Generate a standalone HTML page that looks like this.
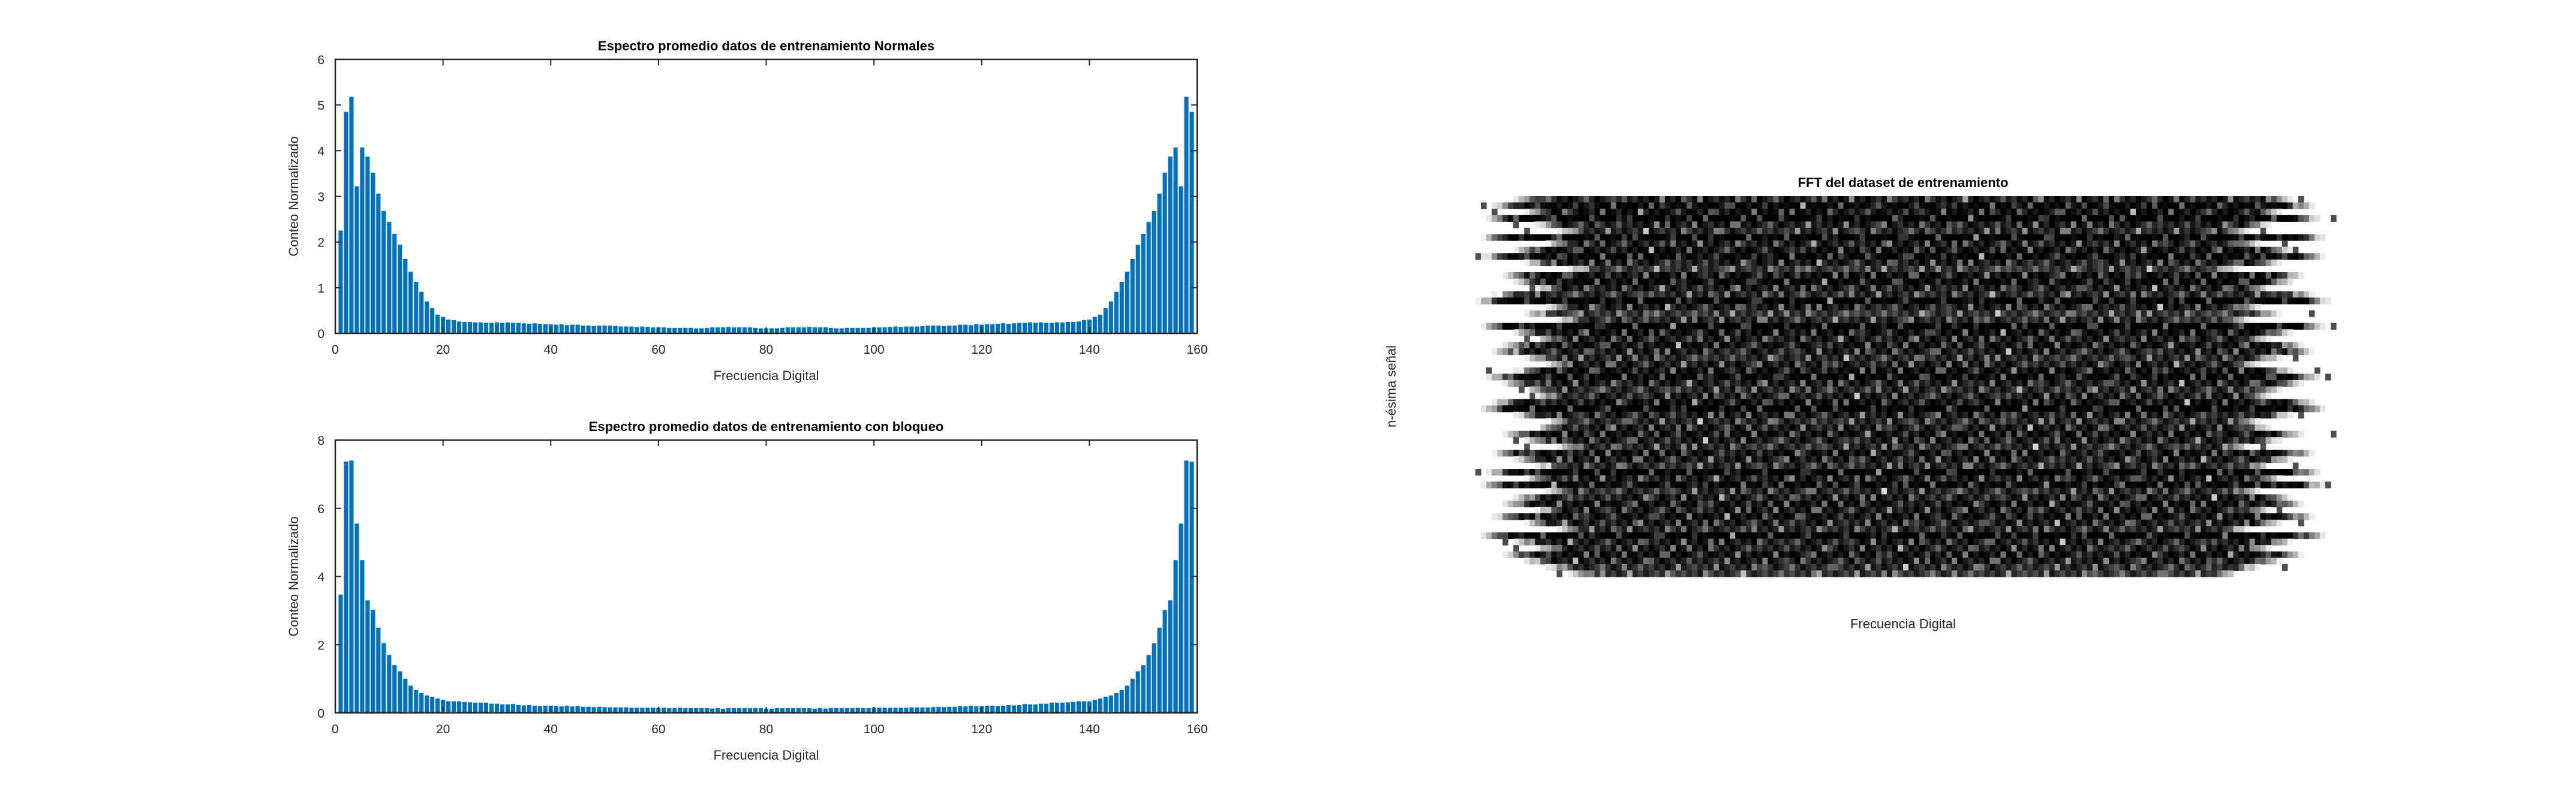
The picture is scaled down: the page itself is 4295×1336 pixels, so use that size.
<!DOCTYPE html>
<html><head><meta charset="utf-8"><style>
html,body{margin:0;padding:0;background:#fff;}
svg{display:block;font-family:"Liberation Sans",sans-serif;}
</style></head><body>
<svg id="fig" width="4295" height="1336" viewBox="0 0 4295 1336" xmlns="http://www.w3.org/2000/svg">
<rect width="4295" height="1336" fill="#fff"/>
<g id="p1"></g>
<g id="p2"></g>
<g id="p3"></g>
</svg>
<script>
// Top chart (bins 1..80; right half mirrors)
const topLeft = [2.25,4.85,5.18,3.22,4.07,3.87,3.52,3.06,2.68,2.44,2.18,1.94,1.63,1.35,1.13,0.91,0.70,0.55,0.41,0.36,
0.30,0.29,0.26,0.25,0.25,0.24,0.24,0.23,0.23,0.24,0.23,0.24,0.23,0.23,0.22,0.21,0.22,0.21,0.20,0.20,
0.19,0.20,0.18,0.19,0.19,0.17,0.17,0.16,0.17,0.17,0.17,0.16,0.15,0.15,0.15,0.14,0.15,0.14,0.13,0.13,
0.13,0.12,0.12,0.12,0.12,0.12,0.11,0.11,0.12,0.13,0.13,0.13,0.14,0.13,0.13,0.13,0.13,0.12,0.11,0.11];
const botLeft = [3.47,7.37,7.40,5.55,4.48,3.30,3.02,2.50,2.04,1.70,1.40,1.22,1.00,0.80,0.67,0.58,0.51,0.47,0.42,0.38,
0.34,0.34,0.34,0.32,0.31,0.30,0.30,0.30,0.27,0.27,0.25,0.25,0.26,0.23,0.22,0.23,0.21,0.20,0.21,0.21,
0.20,0.19,0.21,0.19,0.20,0.18,0.18,0.17,0.18,0.17,0.16,0.16,0.16,0.16,0.15,0.15,0.15,0.15,0.15,0.15,
0.15,0.14,0.14,0.15,0.14,0.14,0.14,0.14,0.14,0.13,0.14,0.12,0.14,0.14,0.14,0.14,0.14,0.14,0.14,0.12];
const xTicks = [0,20,40,60,80,100,120,140,160];
const yTicksTop = [0,1,2,3,4,5,6];
const yTicksBot = [0,2,4,6,8];
// Heatmap row profiles: half-width of dark band (in bins) and base darkness (0..1)
const rowHalfWidth = [72,76,70,77,68,64,78,66,72,78,70,62,74,72,68,76,79,66,70,64,
78,72,68,74,76,70,66,72,77,74,70,68,76,78,72,66,68,74,70,64,
76,72,68,77,70,78,66,72,74,68,76,70,64,78,72,68,74,70,66,62];
const rowDark = [0.8,0.9,0.85,0.95,0.8,0.75,0.95,0.8,0.85,0.9,0.8,0.7,0.85,0.9,0.8,0.75,0.95,0.8,0.7,0.75,
0.95,0.85,0.8,0.85,0.8,0.75,0.8,0.85,0.9,0.8,0.75,0.8,0.85,0.95,0.8,0.75,0.8,0.85,0.8,0.75,
0.85,0.8,0.75,0.95,0.8,0.9,0.75,0.8,0.85,0.8,0.85,0.8,0.75,0.95,0.8,0.8,0.85,0.8,0.75,0.7];

const NS='http://www.w3.org/2000/svg';
function mk(parent,tag,attrs){const e=document.createElementNS(NS,tag);for(const k in attrs)e.setAttribute(k,attrs[k]);parent.appendChild(e);return e;}
function series(left){const v=left.slice();for(let k=81;k<=159;k++)v.push(left[161-k-1]);return v;}

function barChart(g,vals,yTicks,ymax,box,title){
  const {x0,x1,y0,y1}=box;
  const sx=v=>x0+(v/160)*(x1-x0), sy=v=>y1-(v/ymax)*(y1-y0);
  const bw=(x1-x0)/160*0.8;
  vals.forEach((v,i)=>{
    const r=mk(g,'rect',{x:sx(i+1)-bw/2,y:sy(v),width:bw,height:sy(0)-sy(v),fill:'#0072BD'});
    
    
  });
  mk(g,'rect',{x:x0,y:y0,width:x1-x0,height:y1-y0,fill:'none',stroke:'#262626','stroke-width':2.5});
  xTicks.forEach(t=>{
    const x=sx(t);
    mk(g,'line',{x1:x,x2:x,y1:y1,y2:y1-10,stroke:'#262626','stroke-width':2});
    mk(g,'line',{x1:x,x2:x,y1:y0,y2:y0+10,stroke:'#262626','stroke-width':2});
    const tx=mk(g,'text',{x:x,y:y1+34,'text-anchor':'middle','font-size':21,fill:'#262626'});tx.textContent=t;
    
    
  });
  yTicks.forEach(t=>{
    const y=sy(t);
    mk(g,'line',{x1:x0,x2:x0+10,y1:y,y2:y,stroke:'#262626','stroke-width':2});
    mk(g,'line',{x1:x1,x2:x1-10,y1:y,y2:y,stroke:'#262626','stroke-width':2});
    const tx=mk(g,'text',{x:x0-18,y:y+8,'text-anchor':'end','font-size':21,fill:'#262626'});tx.textContent=t;
    
    
  });
  const tt=mk(g,'text',{x:(x0+x1)/2,y:y0-15,'text-anchor':'middle','font-size':22,'font-weight':'bold',fill:'#000'});tt.textContent=title;
  
  
  const xl=mk(g,'text',{x:(x0+x1)/2,y:y1+78,'text-anchor':'middle','font-size':22,fill:'#262626'});xl.textContent='Frecuencia Digital';
  
  
  const yl=mk(g,'text',{x:0,y:0,'text-anchor':'middle','font-size':22,fill:'#262626',transform:`translate(${x0-62},${(y0+y1)/2}) rotate(-90)`});yl.textContent='Conteo Normalizado';
  
  
}
barChart(document.getElementById('p1'),series(topLeft),yTicksTop,6,{x0:559,x1:1996,y0:99,y1:556},'Espectro promedio datos de entrenamiento Normales');
barChart(document.getElementById('p2'),series(botLeft),yTicksBot,8,{x0:559,x1:1996,y0:734,y1:1189},'Espectro promedio datos de entrenamiento con bloqueo');

// Heatmap
(function(){
  const g=document.getElementById('p3');
  const X0=2451,X1=3895,Y0=327,Y1=962;
  const nr=rowHalfWidth.length, nc=160;
  const cw=(X1-X0)/nc, rh=(Y1-Y0)/nr;
  for(let r=0;r<nr;r++){
    for(let c=0;c<nc;c++){
      const d=Math.abs(c+0.5-nc/2);
      let dark=0;
      if(d<rowHalfWidth[r]){
        const edge=Math.min(1,(rowHalfWidth[r]-d)/5);
        const tex=((r*7+c*13)%5)*0.05+((r*3+c*5)%7===0?-0.35:0)+((r*5+c*11)%13===0?-0.25:0);
        dark=Math.max(0,Math.min(1,(rowDark[r]+tex)*edge));
      } else if(d<rowHalfWidth[r]+6 && ((r*11+c*3)%17===0)){dark=0.7;}
      if(dark<0.05)continue;
      const v=Math.round(255*(1-dark));
      const cell=mk(g,'rect',{x:X0+c*cw,y:Y0+r*rh,width:cw+0.6,height:rh+0.6,fill:`rgb(${v},${v},${v})`});
      
      
    }
  }
  const tt=mk(g,'text',{x:(X0+X1)/2,y:Y0-15,'text-anchor':'middle','font-size':22,'font-weight':'bold',fill:'#000'});tt.textContent='FFT del dataset de entrenamiento';
  
  
  const xl=mk(g,'text',{x:(X0+X1)/2,y:1048,'text-anchor':'middle','font-size':22,fill:'#262626'});xl.textContent='Frecuencia Digital';
  
  
  const yl=mk(g,'text',{x:0,y:0,'text-anchor':'middle','font-size':22,fill:'#262626',transform:`translate(2327,${(Y0+Y1)/2}) rotate(-90)`});yl.textContent='n-ésima señal';
  
  
})();
</script>
</body></html>
